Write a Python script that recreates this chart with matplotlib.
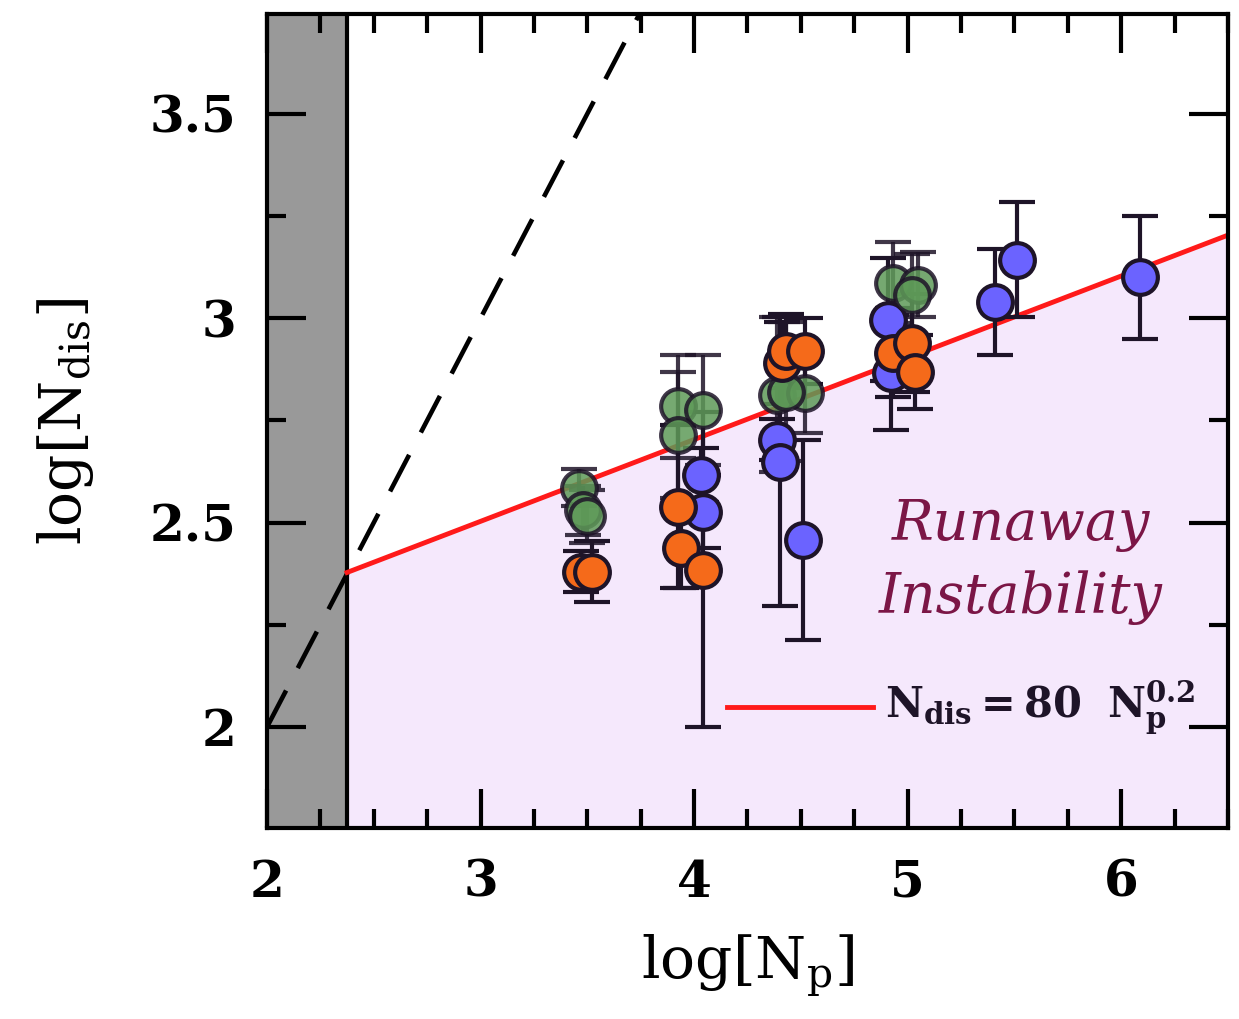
import numpy as np
import matplotlib
matplotlib.use("Agg")
import matplotlib.pyplot as plt
from matplotlib.ticker import MultipleLocator, FuncFormatter

plt.rcParams['font.family'] = 'DejaVu Serif'
plt.rcParams['mathtext.fontset'] = 'dejavuserif'

# data: log N_p, log N_dis, error
green_x = [3.46, 3.48, 3.50, 3.925, 4.04, 3.925, 4.39, 4.52, 4.43, 4.93, 5.05, 5.02]
green_y = [2.585, 2.530, 2.515, 2.784, 2.776, 2.715, 2.813, 2.818, 2.820, 3.087, 3.082, 3.057]
green_e = [0.045, 0.060, 0.065, 0.126, 0.134, 0.154, 0.190, 0.100, 0.170, 0.100, 0.080, 0.100]

orange_x = [3.47, 3.52, 3.925, 3.94, 4.04, 4.41, 4.43, 4.52, 4.93, 5.02, 5.035]
orange_y = [2.380, 2.380, 2.539, 2.439, 2.385, 2.890, 2.920, 2.920, 2.916, 2.940, 2.869]
orange_e = [0.050, 0.075, 0.200, 0.100, 0.385, 0.100, 0.090, 0.080, 0.110, 0.120, 0.090]

blue_x = [4.03, 4.04, 4.39, 4.40, 4.51, 4.91, 4.92, 5.41, 5.51, 6.09]
blue_y = [2.617, 2.527, 2.703, 2.649, 2.458, 2.996, 2.867, 3.040, 3.143, 3.100]
blue_e = [0.066, 0.090, 0.050, 0.354, 0.244, 0.150, 0.140, 0.130, 0.140, 0.150]

x_cut = 2.375          # resolution limit
norm, slope = 80., 0.2  # N_dis = 80 N_p^0.2

fig = plt.figure(figsize=(12.39, 10.19), dpi=100)
ax = fig.add_axes([0.2155, 0.1874, 0.7756, 0.7989])
ax.set_xlim(2, 6.5)
ax.set_ylim(1.753, 3.744)

# shaded regions
xx = np.linspace(x_cut, 6.5, 50)
yy = np.log10(norm) + slope * xx
ax.fill_between(xx, 1.7, yy, color='#f5e8fc', lw=0, zorder=0)
ax.axvspan(2, x_cut, color='#999999', lw=0, zorder=0)
ax.axvline(x_cut, color='black', lw=3, zorder=1)

# N_dis = N_p
xd = np.linspace(2, 4, 10)
ax.plot(xd, xd, ls=(0, (9, 5.5)), color='black', lw=3.3, zorder=2)
ax.plot(xx, yy, color='#ff1a1a', lw=3.5, zorder=2)

edge = '#1e1428'
for xs, ys, es, col, a in [(blue_x, blue_y, blue_e, '#6b63ff', 1.0),
                           (green_x, green_y, green_e, '#5e9a58', 0.85),
                           (orange_x, orange_y, orange_e, '#f56a1a', 1.0)]:
    ax.errorbar(xs, ys, yerr=es, fmt='o', ms=25, mfc=col, mec=edge, mew=3,
                ecolor=edge, elinewidth=3, capsize=13, capthick=3, alpha=a, zorder=3)

# legend line
ax.plot([4.155, 4.84], [2.048, 2.048], color='#ff1a1a', lw=3.5, zorder=2)
ax.text(4.895, 2.048, r'$\mathbf{N_{dis}}$$\mathbf{= 80\ \ N_p^{0.2}}$',
        fontsize=30, va='center', ha='left', color='#1e1428')

ax.text(5.53, 2.495, 'Runaway', fontsize=40, style='italic', color='#7b1646',
        ha='center', va='center')
ax.text(5.53, 2.317, 'Instability', fontsize=40, style='italic', color='#7b1646',
        ha='center', va='center')

ax.xaxis.set_major_locator(MultipleLocator(1))
ax.xaxis.set_minor_locator(MultipleLocator(0.25))
ax.yaxis.set_major_locator(MultipleLocator(0.5))
ax.yaxis.set_minor_locator(MultipleLocator(0.25))
ax.yaxis.set_major_formatter(FuncFormatter(lambda v, p: '%g' % v))
ax.tick_params(which='both', direction='in', top=True, right=True, width=3)
ax.tick_params(which='major', length=28, labelsize=36, pad=22)
ax.tick_params(which='minor', length=14)
for lab in ax.get_xticklabels() + ax.get_yticklabels():
    lab.set_fontweight('bold')
for sp in ax.spines.values():
    sp.set_linewidth(3)

ax.set_xlabel(r'log[N$_{\rm p}$]', fontsize=42)
ax.set_ylabel(r'log[N$_{\rm dis}$]', fontsize=42)
ax.xaxis.set_label_coords(0.5, -0.128)
ax.yaxis.set_label_coords(-0.178, 0.5)

fig.savefig('out.png', dpi=100)
